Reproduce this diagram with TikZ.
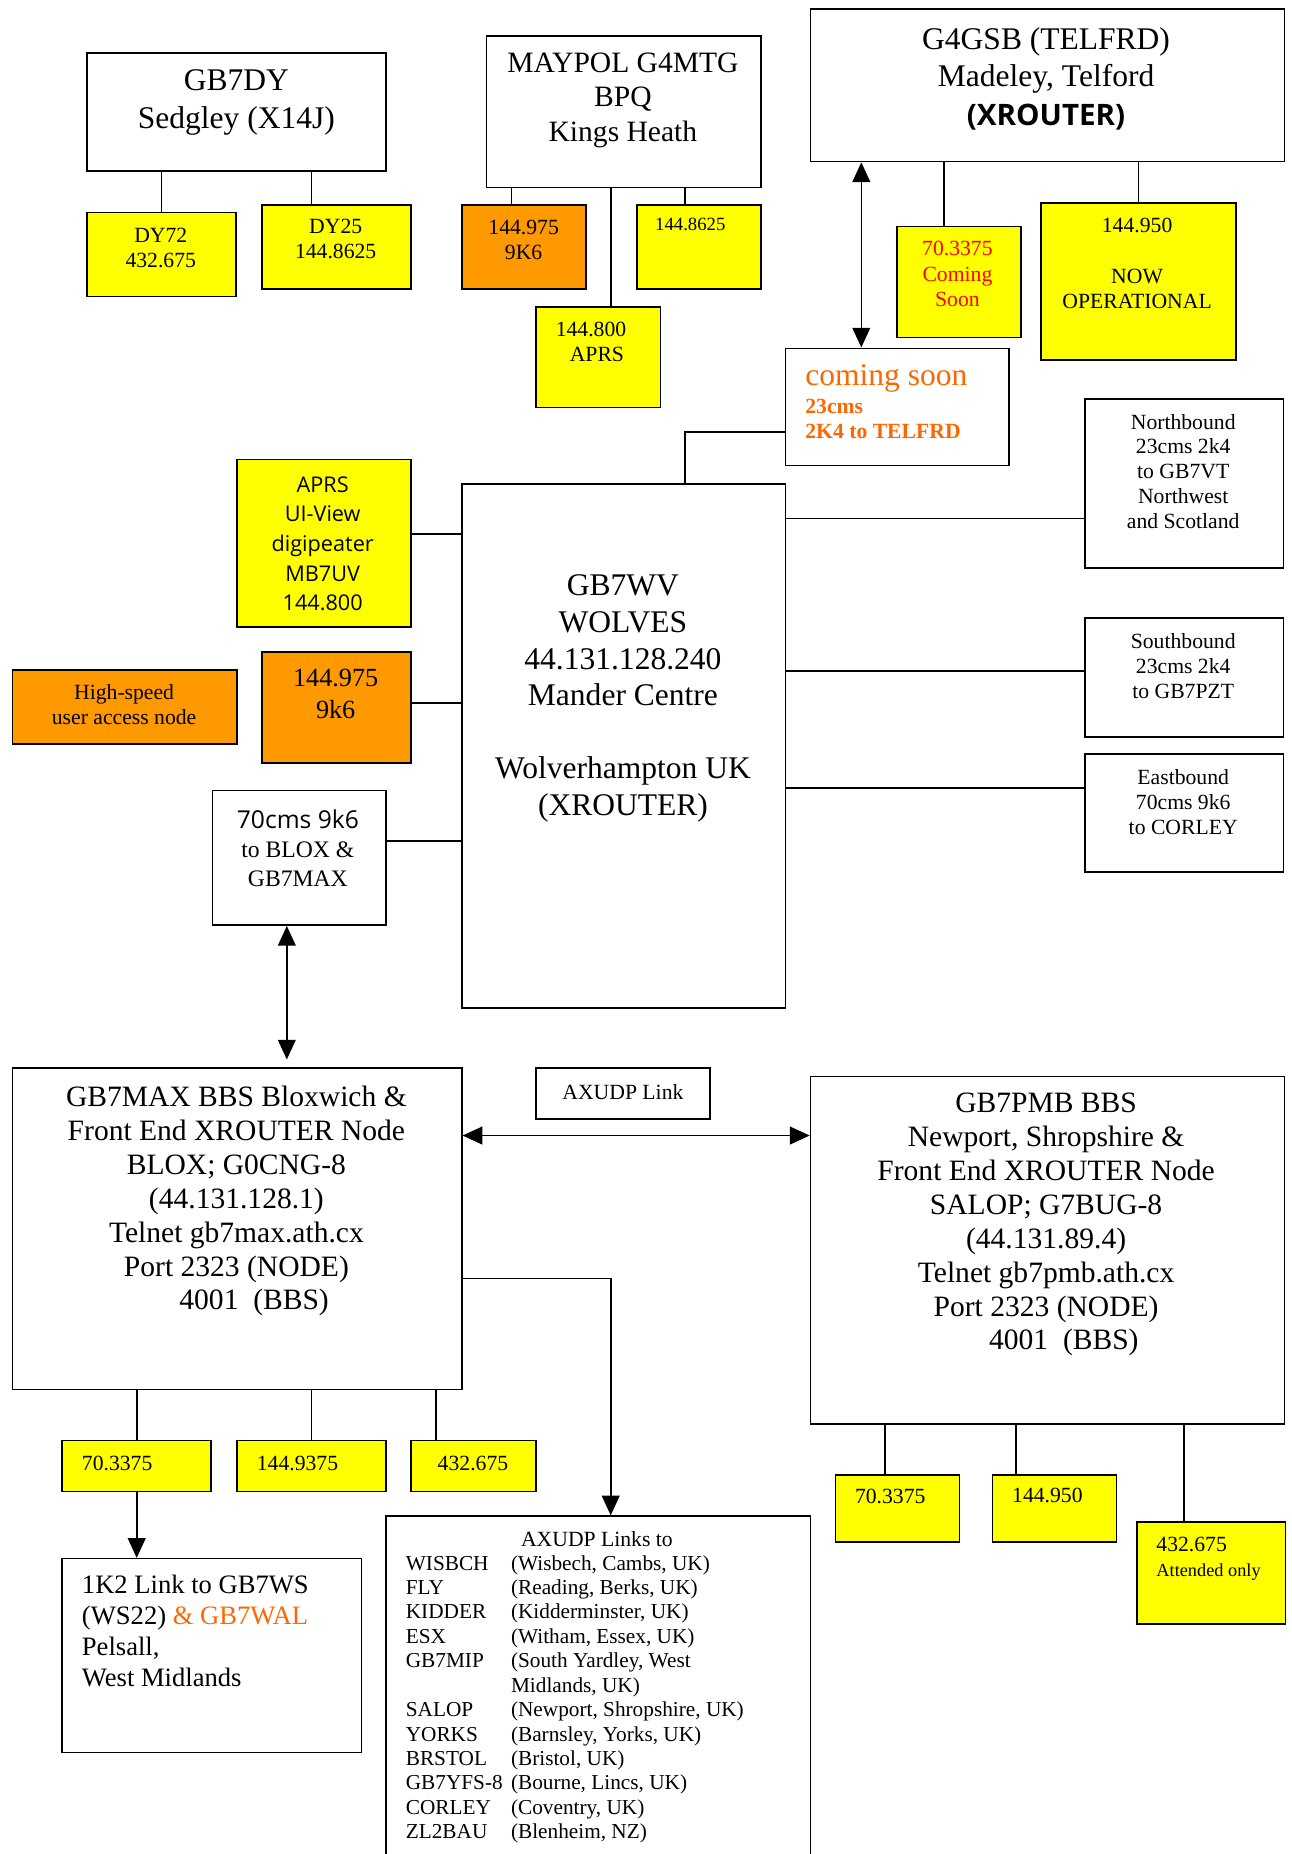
\documentclass[tikz,border=0pt]{standalone}
\usepackage{fontspec}
\setmainfont{Liberation Serif}
\newfontfamily\comicfont{Open Sans}
\usepackage{tikz}
\usetikzlibrary{arrows.meta}
\definecolor{boxyellow}{HTML}{FFFF00}
\definecolor{boxorange}{HTML}{FF9900}
\definecolor{soonorange}{HTML}{FF6600}

\begin{document}
\begin{tikzpicture}[x=0.6pt,y=-0.6pt,
    box/.style={draw,line width=0.8pt,inner sep=0pt,anchor=north west},
    ybox/.style={box,fill=boxyellow},
    obox/.style={box,fill=boxorange},
    txt/.style={inner sep=0pt,align=center,anchor=north,font=\fontsize{11}{12.6}\selectfont},
    bigtxt/.style={txt,font=\fontsize{16}{18.6}\selectfont},
    midtxt/.style={txt,font=\fontsize{15}{17.2}\selectfont},
    comic/.style={txt,font=\comicfont\fontsize{11}{15}\selectfont},
    wire/.style={line width=0.8pt},
    arrowlink/.style={wire,-{Triangle[width=9pt,length=10pt]}},
    dlink/.style={wire,{Triangle[width=9pt,length=10pt]}-{Triangle[width=9pt,length=10pt]}}]
    \useasboundingbox (0,0) rectangle (1093,1568.5);

    % GB7DY
    \node[box,minimum width=151.8pt,minimum height=60pt] (dy) at (73,44) {};
    \node[bigtxt,font=\fontsize{16}{19.2}\selectfont] (dy-t) at (200,59) {GB7DY\\Sedgley (X14J)};
    \node[ybox,minimum width=75.6pt,minimum height=42.6pt] (dy72) at (73,179) {};
    \node[txt] (dy72-t) at (136,193) {DY72\\432.675};
    \node[ybox,minimum width=75.6pt,minimum height=42.6pt] (dy25) at (221,173) {};
    \node[txt] (dy25-t) at (284,185) {DY25\\144.8625};

    % MAYPOL
    \node[box,minimum width=139.2pt,minimum height=76.8pt] (maypol) at (411,30) {};
    \node[midtxt,font=\fontsize{15}{17.4}\selectfont] (maypol-t) at (527,44.5) {MAYPOL G4MTG\\BPQ\\Kings Heath};
    \node[obox,minimum width=63pt,minimum height=42.6pt] (my975) at (390,173) {};
    \node[txt] (my975-t) at (443,186) {144.975\\9K6};
    \node[ybox,minimum width=63pt,minimum height=42.6pt] (my8625) at (538,173) {};
    \node[txt,font=\fontsize{9.5}{11}\selectfont] (my8625-t) at (584,184.5) {144.8625};
    \node[ybox,minimum width=63pt,minimum height=51pt] (myaprs) at (453,259) {};
    \node[txt] (myaprs-t) at (500,272) {144.800\\\hspace*{6pt}APRS};

    % G4GSB
    \node[box,minimum width=240.6pt,minimum height=77.4pt] (telfrd) at (685,7) {};
    \node[bigtxt] (telfrd-t) at (885,23) {G4GSB (TELFRD)\\Madeley, Telford\\[1.5pt]{\comicfont\bfseries\fontsize{15}{18}\selectfont (XROUTER)}};
    \node[ybox,minimum width=63pt,minimum height=56.4pt] (tf70) at (758,191) {};
    \node[txt,text=red,font=\fontsize{11}{12.9}\selectfont] (tf70-t) at (810,204) {70.3375\\Coming\\Soon};
    \node[ybox,minimum width=99pt,minimum height=79.8pt] (tf950) at (880,171) {};
    \node[txt,font=\fontsize{11}{12.9}\selectfont] (tf950-t) at (962,184) {144.950\\[12.9pt]NOW\\OPERATIONAL};

    % coming soon
    \node[box,minimum width=113.4pt,minimum height=59.4pt] (soon) at (664,294) {};
    \node[txt,anchor=north west,align=left,text=soonorange,font=\bfseries\fontsize{11}{12.6}\selectfont] (soon-t) at (681,308) {{\mdseries\fontsize{16}{19}\selectfont coming soon}\\[1.8pt]23cms\\2K4 to TELFRD};

    % links on the right
    \node[box,minimum width=100.8pt,minimum height=85.8pt] (nbound) at (917,337) {};
    \node[txt] (nbound-t) at (1001,350) {Northbound\\23cms 2k4\\to GB7VT\\Northwest\\and Scotland};
    \node[box,minimum width=100.8pt,minimum height=60.6pt] (sbound) at (917,522) {};
    \node[txt] (sbound-t) at (1001,536) {Southbound\\23cms 2k4\\to GB7PZT};
    \node[box,minimum width=100.8pt,minimum height=60pt] (ebound) at (917,637) {};
    \node[txt] (ebound-t) at (1001,651) {Eastbound\\70cms 9k6\\to CORLEY};

    % GB7WV
    \node[box,minimum width=164.4pt,minimum height=265.8pt] (wv) at (390,409) {};
    \node[bigtxt] (wv-t) at (527,486) {GB7WV\\WOLVES\\44.131.128.240\\Mander Centre\\[18.6pt]Wolverhampton UK\\(XROUTER)};

    % ports on the left
    \node[ybox,minimum width=88.2pt,minimum height=85.2pt] (aprs) at (200,388) {};
    \node[comic] (aprs-t) at (273,403) {APRS\\UI-View\\digipeater\\MB7UV\\144.800};
    \node[obox,minimum width=114pt,minimum height=37.8pt] (hsuan) at (10,566) {};
    \node[txt] (hsuan-t) at (105,579) {High-speed\\user access node};
    \node[obox,minimum width=75.6pt,minimum height=56.4pt] (wv975) at (221,551) {};
    \node[txt,font=\fontsize{13.3}{16.2}\selectfont] (wv975-t) at (284,565.5) {144.975\\9k6};
    \node[box,minimum width=88.2pt,minimum height=68.4pt] (blox70) at (179,668) {};
    \node[txt,font=\fontsize{12}{14.7}\selectfont] (blox70-t) at (252,684.5) {{\comicfont\fontsize{12.5}{15}\selectfont 70cms 9k6}\\to BLOX \&\\GB7MAX};

    % GB7MAX and GB7PMB
    \node[box,minimum width=228pt,minimum height=163.2pt] (max) at (10,903) {};
    \node[midtxt] (max-t) at (200,918.5) {GB7MAX BBS Bloxwich \&\\Front End XROUTER Node\\BLOX; G0CNG-8\\(44.131.128.1)\\Telnet gb7max.ath.cx\\Port 2323 (NODE)\\\hspace*{18pt}4001\ \ (BBS)};
    \node[box,minimum width=88.2pt,minimum height=25.8pt] (axlink) at (453,903) {};
    \node[txt] (axlink-t) at (527,917) {AXUDP Link};
    \node[box,minimum width=240.6pt,minimum height=176.4pt] (pmb) at (685,910) {};
    \node[midtxt] (pmb-t) at (885,924.5) {GB7PMB BBS\\Newport, Shropshire \&\\Front End XROUTER Node\\SALOP; G7BUG-8\\(44.131.89.4)\\Telnet gb7pmb.ath.cx\\Port 2323 (NODE)\\\hspace*{18pt}4001\ \ (BBS)};

    % GB7MAX ports
    \node[ybox,minimum width=75.6pt,minimum height=25.8pt] (max70) at (52,1218) {};
    \node[txt,anchor=west] (max70-t) at (69,1238) {70.3375};
    \node[ybox,minimum width=75.6pt,minimum height=25.8pt] (max144) at (200,1218) {};
    \node[txt,anchor=west] (max144-t) at (217,1238) {144.9375};
    \node[ybox,minimum width=63.6pt,minimum height=25.8pt] (max432) at (347,1218) {};
    \node[txt,anchor=west] (max432-t) at (370,1238) {432.675};

    \node[box,minimum width=151.8pt,minimum height=98.4pt] (ws) at (52,1318) {};
    \node[txt,anchor=north west,align=left,font=\fontsize{13.5}{15.8}\selectfont] (ws-t) at (69,1332) {1K2 Link to GB7WS\\(WS22) \textcolor{soonorange}{\& GB7WAL}\\Pelsall,\\West Midlands};

    % AXUDP list
    \node[box,minimum width=215.4pt,minimum height=190pt] (axlist) at (326,1282) {};
    \node[txt] (axlist-t) at (505,1295) {AXUDP Links to};
    \node[txt,anchor=north west,align=left,font=\fontsize{10.8}{12.4}\selectfont] (axlist-rows) at (343,1313.5) {%
      \begin{tabular}{@{}p{53.4pt}@{}l@{}}
        WISBCH & (Wisbech, Cambs, UK)\\
        FLY & (Reading, Berks, UK)\\
        KIDDER & (Kidderminster, UK)\\
        ESX & (Witham, Essex, UK)\\
        GB7MIP & (South Yardley, West\\
         & Midlands, UK)\\
        SALOP & (Newport, Shropshire, UK)\\
        YORKS & (Barnsley, Yorks, UK)\\
        BRSTOL & (Bristol, UK)\\
        GB7YFS-8 & (Bourne, Lincs, UK)\\
        CORLEY & (Coventry, UK)\\
        ZL2BAU & (Blenheim, NZ)
      \end{tabular}};

    % GB7PMB ports
    \node[ybox,minimum width=63pt,minimum height=34.2pt] (pmb70) at (706,1247) {};
    \node[txt,anchor=west] (pmb70-t) at (723,1266) {70.3375};
    \node[ybox,minimum width=63pt,minimum height=34.2pt] (pmb950) at (839,1247) {};
    \node[txt,anchor=west] (pmb950-t) at (856,1265) {144.950};
    \node[ybox,minimum width=75.6pt,minimum height=51.6pt] (pmb432) at (961,1287) {};
    \node[txt,anchor=north west,align=left] (pmb432-t) at (978,1300) {432.675\\{\fontsize{9.3}{11}\selectfont Attended only}};

    % connectors
    \draw[wire] (dy72.north) -- (dy72.north |- dy.south);
    \draw[wire] ([xshift=-12.6pt]dy25.north) -- ([xshift=-12.6pt]dy25.north |- dy.south);
    \draw[wire] ([xshift=-6.3pt]my975.north) -- ([xshift=-6.3pt]my975.north |- maypol.south);
    \draw[wire] ([xshift=-6.9pt]my8625.north) -- ([xshift=-6.9pt]my8625.north |- maypol.south);
    \draw[wire] ([xshift=6.3pt]myaprs.north) -- ([xshift=6.3pt]myaprs.north |- maypol.south);
    \draw[dlink] ([xshift=-18.3pt]soon.north) -- ([xshift=-18.3pt]soon.north |- telfrd.south);
    \draw[wire] ([xshift=-7.5pt]tf70.north) -- ([xshift=-7.5pt]tf70.north |- telfrd.south);
    \draw[wire] (tf950.north) -- (tf950.north |- telfrd.south);
    \draw[wire] ([xshift=31.2pt]wv.north) |- ([yshift=-12.9pt]soon.west);
    \draw[wire] ([yshift=-17.7pt]nbound.west) -- ([yshift=-17.7pt]nbound.west -| wv.east);
    \draw[wire] ([yshift=3.3pt]sbound.west) -- ([yshift=3.3pt]sbound.west -| wv.east);
    \draw[wire] ([yshift=12.6pt]ebound.west) -- ([yshift=12.6pt]ebound.west -| wv.east);
    \draw[wire] ([yshift=4.8pt]aprs.east) -- ([yshift=4.8pt]aprs.east -| wv.west);
    \draw[wire] ([yshift=2.4pt]wv975.east) -- ([yshift=2.4pt]wv975.east -| wv.west);
    \draw[wire] ([yshift=8.4pt]blox70.east) -- ([yshift=8.4pt]blox70.east -| wv.west);
    \draw[dlink,shorten >=4pt] ([xshift=-6.3pt]blox70.south) -- ([xshift=-6.3pt]blox70.south |- max.north);
    \draw[dlink] ([yshift=47.4pt]max.east) -- ([yshift=47.4pt]max.east -| pmb.west);
    \draw[arrowlink] ([yshift=-25.2pt]max.east) -| ([xshift=6.3pt]axlist.north);
    \draw[wire] (max70.north) -- (max70.north |- max.south);
    \draw[wire] (max144.north) -- (max144.north |- max.south);
    \draw[wire] ([xshift=-19.2pt]max432.north) -- ([xshift=-19.2pt]max432.north |- max.south);
    \draw[arrowlink] (max70.south) -- (max70.south |- ws.north);
    \draw[wire] ([xshift=-6.3pt]pmb70.north) -- ([xshift=-6.3pt]pmb70.north |- pmb.south);
    \draw[wire] ([xshift=-19.5pt]pmb950.north) -- ([xshift=-19.5pt]pmb950.north |- pmb.south);
    \draw[wire] ([xshift=-13.8pt]pmb432.north) -- ([xshift=-13.8pt]pmb432.north |- pmb.south);
\end{tikzpicture}
\end{document}
